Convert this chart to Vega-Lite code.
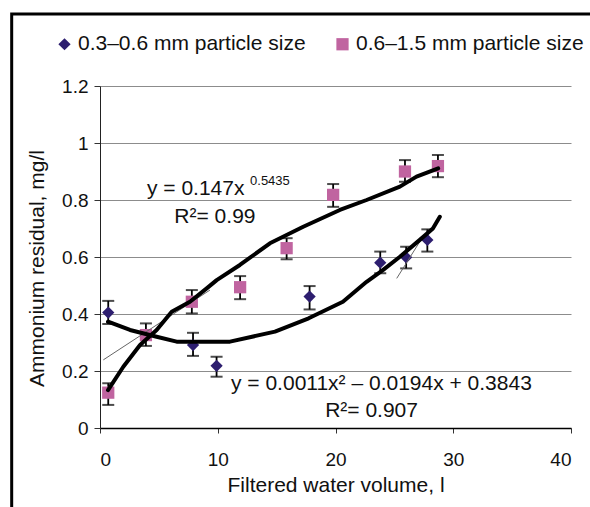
{
  "$schema": "https://vega.github.io/schema/vega-lite/v6.json",
  "width": 471,
  "height": 342,
  "autosize": {"type": "none"},
  "padding": {"left": 100, "top": 86, "right": 19, "bottom": 79},
  "background": "white",
  "config": {
    "view": {"stroke": null},
    "font": "Liberation Sans",
    "text": {"font": "Liberation Sans"}
  },
  "datasets": {
    "frame": [{"x": -7.5, "x2": 42.5, "y": -0.33, "y2": 1.4526}],
    "points": [
      {"series": "0.3–0.6 mm particle size", "x": 0.7, "y": 0.405, "lo": 0.365, "hi": 0.446},
      {"series": "0.3–0.6 mm particle size", "x": 7.9, "y": 0.291, "lo": 0.253, "hi": 0.334},
      {"series": "0.3–0.6 mm particle size", "x": 9.9, "y": 0.218, "lo": 0.18, "hi": 0.25},
      {"series": "0.3–0.6 mm particle size", "x": 17.8, "y": 0.461, "lo": 0.416, "hi": 0.498},
      {"series": "0.3–0.6 mm particle size", "x": 23.8, "y": 0.58, "lo": 0.543, "hi": 0.619},
      {"series": "0.3–0.6 mm particle size", "x": 26.0, "y": 0.599, "lo": 0.56, "hi": 0.636},
      {"series": "0.3–0.6 mm particle size", "x": 27.8, "y": 0.66, "lo": 0.619, "hi": 0.697},
      {"series": "0.6–1.5 mm particle size", "x": 0.7, "y": 0.124, "lo": 0.081, "hi": 0.157},
      {"series": "0.6–1.5 mm particle size", "x": 3.9, "y": 0.326, "lo": 0.288, "hi": 0.367},
      {"series": "0.6–1.5 mm particle size", "x": 7.8, "y": 0.443, "lo": 0.402, "hi": 0.484},
      {"series": "0.6–1.5 mm particle size", "x": 11.9, "y": 0.494, "lo": 0.452, "hi": 0.533},
      {"series": "0.6–1.5 mm particle size", "x": 15.85, "y": 0.631, "lo": 0.592, "hi": 0.666},
      {"series": "0.6–1.5 mm particle size", "x": 19.8, "y": 0.818, "lo": 0.776, "hi": 0.856},
      {"series": "0.6–1.5 mm particle size", "x": 25.9, "y": 0.9, "lo": 0.864, "hi": 0.94},
      {"series": "0.6–1.5 mm particle size", "x": 28.7, "y": 0.919, "lo": 0.88, "hi": 0.958}
    ],
    "fits": [
      {"fit": "quad", "x": 0.68, "y": 0.373},
      {"fit": "quad", "x": 2.55, "y": 0.344},
      {"fit": "quad", "x": 4.81, "y": 0.32},
      {"fit": "quad", "x": 6.51, "y": 0.303},
      {"fit": "quad", "x": 11.04, "y": 0.303},
      {"fit": "quad", "x": 14.86, "y": 0.338},
      {"fit": "quad", "x": 17.72, "y": 0.385},
      {"fit": "quad", "x": 20.63, "y": 0.443},
      {"fit": "quad", "x": 22.64, "y": 0.513},
      {"fit": "quad", "x": 24.02, "y": 0.554},
      {"fit": "quad", "x": 25.47, "y": 0.601},
      {"fit": "quad", "x": 27.16, "y": 0.66},
      {"fit": "quad", "x": 28.27, "y": 0.7},
      {"fit": "quad", "x": 28.86, "y": 0.741},
      {"fit": "power", "x": 0.68, "y": 0.133},
      {"fit": "power", "x": 1.98, "y": 0.215},
      {"fit": "power", "x": 3.4, "y": 0.291},
      {"fit": "power", "x": 4.81, "y": 0.344},
      {"fit": "power", "x": 6.09, "y": 0.408},
      {"fit": "power", "x": 7.64, "y": 0.443},
      {"fit": "power", "x": 9.06, "y": 0.49},
      {"fit": "power", "x": 9.91, "y": 0.519},
      {"fit": "power", "x": 11.88, "y": 0.572},
      {"fit": "power", "x": 14.43, "y": 0.648},
      {"fit": "power", "x": 17.26, "y": 0.706},
      {"fit": "power", "x": 20.37, "y": 0.765},
      {"fit": "power", "x": 22.64, "y": 0.8},
      {"fit": "power", "x": 25.47, "y": 0.847},
      {"fit": "power", "x": 26.88, "y": 0.882},
      {"fit": "power", "x": 28.72, "y": 0.911}
    ],
    "thin": [
      {"seg": "a", "x": 0.28, "y": 0.239},
      {"seg": "a", "x": 9.34, "y": 0.484},
      {"seg": "b", "x": 25.2, "y": 0.525},
      {"seg": "b", "x": 27.16, "y": 0.654}
    ],
    "notes": [
      {"x": 8.13, "y": 0.839, "text": "y = 0.147x"},
      {"x": 9.76, "y": 0.741, "text": "R²= 0.99"},
      {"x": 23.9, "y": 0.156, "text": "y = 0.0011x² – 0.0194x + 0.3843"},
      {"x": 23.06, "y": 0.058, "text": "R²= 0.907"}
    ],
    "sup": [
      {"x": 14.43, "y": 0.867, "text": "0.5435"}
    ]
  },
  "encoding": {
    "x": {
      "field": "x",
      "type": "quantitative",
      "scale": {"domain": [0, 40], "nice": false, "zero": false},
      "axis": {
        "title": "Filtered water volume, l",
        "values": [0, 10, 20, 30, 40],
        "grid": false,
        "domainColor": "#000000",
        "domainWidth": 1.5,
        "tickColor": "#333333",
        "tickSize": 5,
        "labelFont": "Liberation Sans",
        "labelFontSize": 19,
        "labelColor": "#111111",
        "labelPadding": 17,
        "titleFont": "Liberation Sans",
        "titleFontSize": 21,
        "titleFontWeight": "normal",
        "titleColor": "#111111",
        "titlePadding": 5
      }
    },
    "y": {
      "field": "y",
      "type": "quantitative",
      "scale": {"domain": [0, 1.2], "nice": false, "zero": false},
      "axis": {
        "title": "Ammonium residual, mg/l",
        "values": [0, 0.2, 0.4, 0.6, 0.8, 1, 1.2],
        "format": "~g",
        "grid": true,
        "gridColor": "#8c8c8c",
        "gridWidth": 1,
        "domainColor": "#222222",
        "domainWidth": 1,
        "tickColor": "#333333",
        "tickSize": 6,
        "labelFont": "Liberation Sans",
        "labelFontSize": 19,
        "labelColor": "#111111",
        "labelPadding": 6,
        "titleFont": "Liberation Sans",
        "titleFontSize": 21,
        "titleFontWeight": "normal",
        "titleColor": "#111111",
        "titlePadding": 14,
        "titleY": 182
      }
    }
  },
  "layer": [
    {
      "data": {"name": "frame"},
      "mark": {"type": "rect", "fillOpacity": 0, "stroke": "#000000", "strokeWidth": 3},
      "encoding": {"x2": {"field": "x2"}, "y2": {"field": "y2"}}
    },
    {
      "data": {"name": "points"},
      "mark": {"type": "rule", "color": "#000000", "strokeWidth": 1.8},
      "encoding": {"y": {"field": "lo", "type": "quantitative"}, "y2": {"field": "hi"}}
    },
    {
      "data": {"name": "points"},
      "mark": {"type": "tick", "orient": "horizontal", "color": "#000000", "size": 12, "thickness": 2},
      "encoding": {"y": {"field": "lo", "type": "quantitative"}}
    },
    {
      "data": {"name": "points"},
      "mark": {"type": "tick", "orient": "horizontal", "color": "#000000", "size": 12, "thickness": 2},
      "encoding": {"y": {"field": "hi", "type": "quantitative"}}
    },
    {
      "data": {"name": "points"},
      "mark": {"type": "point", "filled": true, "size": 150, "opacity": 1, "strokeWidth": 0},
      "encoding": {
        "color": {
          "field": "series",
          "type": "nominal",
          "scale": {"domain": ["0.3–0.6 mm particle size", "0.6–1.5 mm particle size"], "range": ["#2D1E6F", "#C064A0"]},
          "legend": {"title": null, "orient": "none", "legendX": -46, "legendY": -52.5, "direction": "horizontal", "labelFont": "Liberation Sans", "labelFontSize": 21, "labelColor": "#111111", "symbolSize": 150, "symbolStrokeWidth": 0, "columnPadding": 26, "labelOffset": 3, "labelLimit": 400, "padding": 0}
        },
        "shape": {
          "field": "series",
          "type": "nominal",
          "scale": {"domain": ["0.3–0.6 mm particle size", "0.6–1.5 mm particle size"], "range": ["diamond", "square"]},
          "legend": {"title": null, "orient": "none", "legendX": -46, "legendY": -52.5, "direction": "horizontal", "labelFont": "Liberation Sans", "labelFontSize": 21, "labelColor": "#111111", "symbolSize": 150, "symbolStrokeWidth": 0, "columnPadding": 26, "labelOffset": 3, "labelLimit": 400, "padding": 0}
        }
      }
    },
    {
      "data": {"name": "thin"},
      "mark": {"type": "line", "color": "#666666", "strokeWidth": 1},
      "encoding": {"detail": {"field": "seg"}}
    },
    {
      "data": {"name": "fits"},
      "mark": {"type": "line", "color": "#000000", "strokeWidth": 4, "strokeJoin": "round", "strokeCap": "round"},
      "encoding": {"detail": {"field": "fit"}}
    },
    {
      "data": {"name": "notes"},
      "mark": {"type": "text", "font": "Liberation Sans", "fontSize": 21, "align": "center", "baseline": "middle", "color": "#111111"},
      "encoding": {"text": {"field": "text"}}
    },
    {
      "data": {"name": "sup"},
      "mark": {"type": "text", "font": "Liberation Sans", "fontSize": 13, "align": "center", "baseline": "middle", "color": "#111111"},
      "encoding": {"text": {"field": "text"}}
    }
  ]
}
